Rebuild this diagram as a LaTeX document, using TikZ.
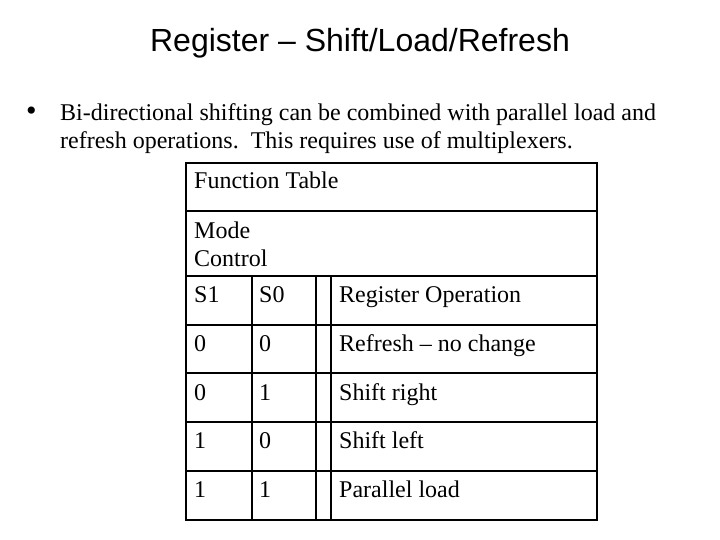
\documentclass[tikz,border=0pt]{standalone}
\usepackage{fontspec}
\setmainfont{Liberation Serif}
\newfontfamily\arialf{Liberation Sans}
\begin{document}
\begin{tikzpicture}[x=1pt,y=-1pt,
  cell/.style={anchor=base west,inner sep=0pt,font=\fontsize{24}{28}\selectfont},
  grid/.style={line width=2.2pt}]
\useasboundingbox (0,0) rectangle (720,540);
\node[font=\arialf\fontsize{32}{36}\selectfont] (title) at (360,43) {Register – Shift/Load/Refresh};
\node[anchor=base west,inner sep=0pt,font=\fontsize{30}{28}\selectfont] (b) at (26,121) {•};
\node[cell] (txt1) at (60,121) {Bi-directional shifting can be combined with parallel load and};
\node[cell] (txt2) at (60,149) {refresh operations.\ \ This requires use of multiplexers.};
% table grid
\draw[grid] (186,163) rectangle (597,520);
\foreach \y in {211,276,325,373,422,471} \draw[grid] (186,\y) -- (597,\y);
\foreach \x in {252,316,331} \draw[grid] (\x,276) -- (\x,520);
\node[cell] (ft) at (194,189) {Function Table};
\node[cell] (m1) at (194,238) {Mode};
\node[cell] (m2) at (194,266) {Control};
\node[cell] (h1) at (194,302) {S1};
\node[cell] (h2) at (259,302) {S0};
\node[cell] (h3) at (339,302) {Register Operation};
\node[cell] (a1) at (194,351) {0};\node[cell] (a2) at (259,351) {0};\node[cell] (a3) at (339,351) {Refresh – no change};
\node[cell] (c1) at (194,400) {0};\node[cell] (c2) at (259,400) {1};\node[cell] (c3) at (339,400) {Shift right};
\node[cell] (d1) at (194,448) {1};\node[cell] (d2) at (259,448) {0};\node[cell] (d3) at (339,448) {Shift left};
\node[cell] (e1) at (194,497) {1};\node[cell] (e2) at (259,497) {1};\node[cell] (e3) at (339,497) {Parallel load};
\end{tikzpicture}
\end{document}
